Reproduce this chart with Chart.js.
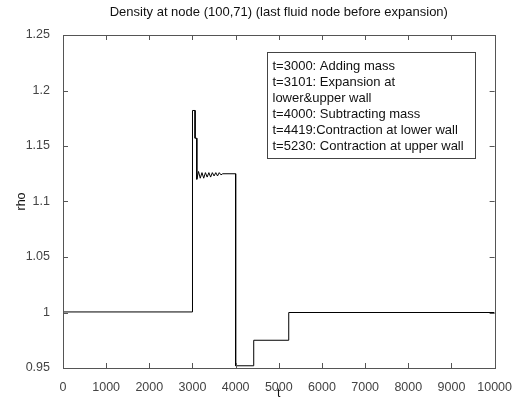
<!DOCTYPE html>
<html>
<head>
<meta charset="utf-8">
<script src="https://cdn.jsdelivr.net/npm/chart.js@4.4.1/dist/chart.umd.min.js"></script>
<style>
  body { margin: 0; background: #fff; }
  #graph { display: block; }
</style>
</head>
<body>
<canvas id="graph" width="516" height="401"></canvas>
<script>
  // time steps and density at node (100,71)
  const tValues = [0, 3000, 3000, 3060, 3060, 3100, 3100,
    3140, 3180, 3220, 3260, 3300, 3340, 3380, 3420, 3460, 3500, 3540, 3580, 3620, 3660, 3700,
    4000, 4000, 4419, 4419, 5230, 5230, 10000];
  const rhoValues = [1.0005, 1.0005, 1.182, 1.182, 1.157, 1.157, 1.12,
    1.127, 1.121, 1.126, 1.121, 1.126, 1.122, 1.126, 1.122, 1.126, 1.123, 1.126, 1.123, 1.126, 1.124, 1.125,
    1.125, 0.952, 0.952, 0.975, 0.975, 1.0, 1.0];

  const xTicks = [0, 1000, 2000, 3000, 4000, 5000, 6000, 7000, 8000, 9000, 10000];
  const yTicks = [0.95, 1, 1.05, 1.1, 1.15, 1.2, 1.25];

  const titleText = 'Density at node (100,71) (last fluid node before expansion)';
  const noteLines = [
    't=3000: Adding mass',
    't=3101: Expansion at',
    'lower&upper wall',
    't=4000: Subtracting mass',
    't=4419:Contraction at lower wall',
    't=5230: Contraction at upper wall'
  ];

  const FONT = '"Liberation Sans", Arial, sans-serif';

  // box around the plot, inward ticks, title over the plot and the note box
  const frame = {
    id: 'frame',
    afterDraw(chart) {
      const ctx = chart.ctx;
      const a = chart.chartArea;
      const xs = chart.scales.x, ys = chart.scales.y;
      ctx.save();
      ctx.strokeStyle = '#555';
      ctx.lineWidth = 1;
      ctx.strokeRect(Math.round(a.left) + 0.5, Math.round(a.top) + 0.5,
        Math.round(a.right - a.left), Math.round(a.bottom - a.top));
      ctx.beginPath();
      xTicks.forEach(v => {
        const px = Math.round(xs.getPixelForValue(v)) + 0.5;
        ctx.moveTo(px, a.bottom); ctx.lineTo(px, a.bottom - 5);
        ctx.moveTo(px, a.top); ctx.lineTo(px, a.top + 5);
      });
      yTicks.forEach(v => {
        const py = Math.round(ys.getPixelForValue(v)) + 0.5;
        ctx.moveTo(a.left, py); ctx.lineTo(a.left + 5, py);
        ctx.moveTo(a.right, py); ctx.lineTo(a.right - 5, py);
      });
      ctx.stroke();

      // title centred over the axes
      ctx.fillStyle = '#111';
      ctx.font = '13px ' + FONT;
      ctx.textAlign = 'center';
      ctx.textBaseline = 'middle';
      ctx.fillText(titleText, (a.left + a.right) / 2, a.top - 23);

      // note box
      const bx = Math.round(xs.getPixelForValue(4730)) + 0.5;
      const by = Math.round(ys.getPixelForValue(1.2345)) + 0.5;
      const bw = 208, bh = 106;
      ctx.fillStyle = '#fff';
      ctx.fillRect(bx, by, bw, bh);
      ctx.strokeStyle = '#444';
      ctx.strokeRect(bx, by, bw, bh);
      ctx.fillStyle = '#111';
      ctx.font = '13px ' + FONT;
      ctx.textAlign = 'left';
      noteLines.forEach((s, i) => ctx.fillText(s, bx + 5, by + 14 + i * 16));
      ctx.restore();
    }
  };

  const ctx = document.getElementById('graph').getContext('2d');
  const graph = new Chart(ctx, {
    type: 'line',
    data: {
      datasets: [{
        data: tValues.map((t, i) => ({ x: t, y: rhoValues[i] })),
        borderColor: '#000',
        borderWidth: 1,
        pointRadius: 0,
        fill: false,
        tension: 0
      }]
    },
    options: {
      responsive: false,
      animation: false,
      layout: { padding: { top: 35, right: 21, left: 0, bottom: 0 } },
      plugins: {
        legend: { display: false },
        tooltip: { enabled: false },
        title: { display: false }
      },
      scales: {
        x: {
          type: 'linear',
          min: 0, max: 10000,
          grid: { display: false },
          border: { display: false },
          afterBuildTicks: s => { s.ticks = xTicks.map(v => ({ value: v })); },
          afterFit: s => { s.height = 33; },
          ticks: {
            color: '#444',
            font: { family: FONT, size: 12.5 },
            padding: 4,
            maxRotation: 0,
            callback: v => String(v)
          },
          title: {
            display: true, text: 't', color: '#111',
            font: { family: FONT, size: 12.5 }, padding: { top: 0, bottom: 0 }
          }
        },
        y: {
          type: 'linear',
          min: 0.95, max: 1.25,
          grid: { display: false },
          border: { display: false },
          afterBuildTicks: s => { s.ticks = yTicks.map(v => ({ value: v })); },
          afterFit: s => { s.width = 63; },
          ticks: {
            color: '#444',
            font: { family: FONT, size: 12.5 },
            padding: 5,
            callback: v => String(v)
          },
          title: {
            display: true, text: 'rho', color: '#111',
            font: { family: FONT, size: 12.5 }, padding: { top: 14, bottom: 4 }
          }
        }
      }
    },
    plugins: [frame]
  });
</script>
</body>
</html>
